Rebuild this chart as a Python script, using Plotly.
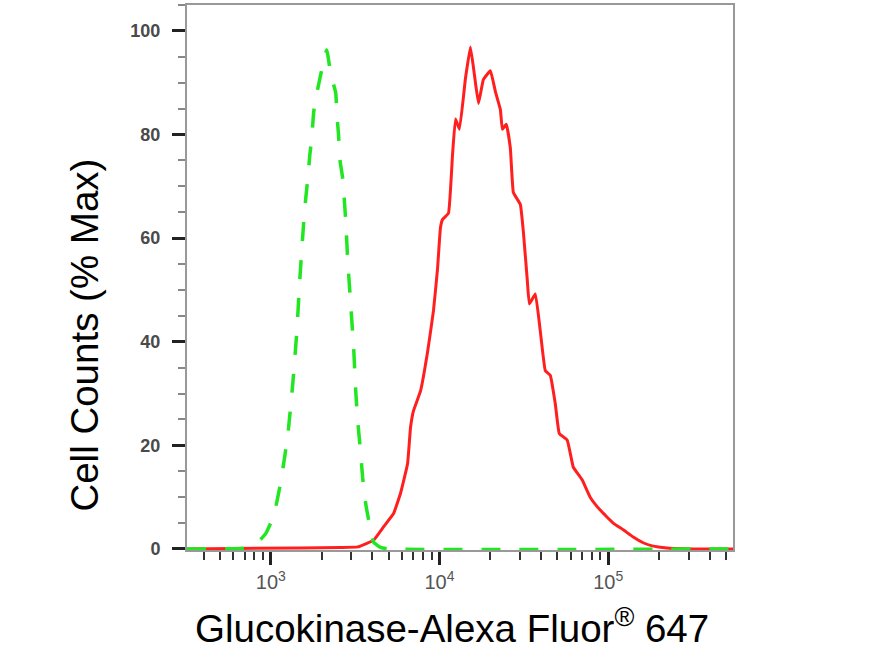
import plotly.graph_objects as go

# intensidad (Alexa Fluor 647) y % del maximo
red_x = [318, 1500, 2594, 3270, 4066, 4665, 5350, 5880, 6470, 6735, 7015, 7720,
         8495, 9210, 9730, 10130, 10420, 11300, 11940, 12440, 13130, 14250, 15250,
         16110, 17020, 18200, 20030, 21440, 22960, 23590, 24900, 26310, 27410,
         30150, 31400, 33180, 34100, 37000, 39600, 42400, 45400, 48600, 51300,
         57200, 62100, 70200, 78200, 89700, 107100, 122800, 140700, 161200,
         182100, 223300, 350000, 549500]
red_y = [0, 0.2, 0.3, 0.4, 1.7, 4.3, 6.9, 10.8, 16.5, 23.5, 26.7, 30.5,
         38, 46, 54, 62, 63.6, 64.8, 76, 83, 81, 90.8, 96.9,
         91.5, 86, 90.6, 92.3, 88.3, 84.8, 81, 82, 77.3, 68.8,
         66.5, 61.3, 51.7, 47.3, 49.2, 42, 34.4, 33.5, 28, 22.3,
         21, 15.8, 13.3, 10, 7.5, 5, 3.7, 2.3, 1.2,
         0.6, 0.2, 0, 0]

green_x = [318, 711, 849, 934, 1042, 1146, 1261, 1350, 1426, 1485, 1568, 1611,
           1656, 1702, 1750, 1796, 1872, 2005, 2145, 2265, 2426, 2460, 2520,
           2560, 2668, 2780, 2858, 2974, 3098, 3185, 3273, 3410, 3502, 3650,
           3802, 4066, 4475, 4990, 549500]
green_y = [0, 0.2, 1.5, 3, 6.5, 13, 22, 32, 42, 52, 63.3, 67.7,
           71.5, 76, 79.6, 84.4, 87.9, 92.5, 96.3, 91.7, 88, 84, 80,
           75.4, 71.5, 63.3, 55.6, 47.3, 38.8, 30.6, 24.8, 18.5, 13.8, 8.8,
           5.6, 1.3, 0.3, 0, 0]

x_ticks = [1e3, 1e4, 1e5]
x_labels = ["10<sup>3</sup>", "10<sup>4</sup>", "10<sup>5</sup>"]
x_minor = [m * 10 ** e for e in range(2, 6) for m in range(2, 10)]

fuente = "Liberation Sans, Arial, sans-serif"

fig = go.Figure([
    go.Scatter(x=red_x, y=red_y, mode="lines", name="Glucokinase",
               line=dict(color="#ff1f1f", width=3, shape="spline", smoothing=0.3)),
    go.Scatter(x=green_x, y=green_y, mode="lines", name="Isotype",
               line=dict(color="#22e622", width=3.5, dash="19px,19px",
                         shape="spline", smoothing=0.4)),
])

fig.update_layout(
    width=876, height=660,
    margin=dict(l=187, r=143, t=3, b=110),
    plot_bgcolor="white", paper_bgcolor="white",
    showlegend=False,
    font=dict(family=fuente),
)

fig.update_xaxes(
    type="log", range=[2.503, 5.74],
    showgrid=False, zeroline=False,
    showline=True, linecolor="#999", linewidth=2, mirror=True,
    tickmode="array", tickvals=x_ticks, ticktext=x_labels,
    ticks="outside", ticklen=13, tickwidth=3, tickcolor="#222",
    tickfont=dict(size=20, color="#555"),
    minor=dict(tickmode="array", tickvals=x_minor, ticks="outside",
               ticklen=8, tickwidth=1.5, tickcolor="#333", showgrid=False),
)

fig.update_yaxes(
    range=[-0.2, 105],
    showgrid=False, zeroline=False,
    showline=True, linecolor="#999", linewidth=2, mirror=True,
    tickmode="linear", tick0=0, dtick=20,
    ticks="outside", ticklen=13, tickwidth=3, tickcolor="#222",
    ticklabelstandoff=8,
    tickfont=dict(size=18, color="#4a4a4a", weight="bold"),
    minor=dict(dtick=5, ticks="outside", ticklen=7, tickwidth=1.5,
               tickcolor="#888", showgrid=False),
)

# titulos de ejes como anotaciones para ubicarlos como en la figura
fig.add_annotation(text="Cell Counts (% Max)", xref="paper", yref="paper",
                   x=-0.187, y=0.395, textangle=-90, showarrow=False,
                   xanchor="center", yanchor="middle",
                   font=dict(size=38.5, color="black"))
fig.add_annotation(text="Glucokinase-Alexa Fluor<sup>®</sup> 647",
                   xref="paper", yref="paper", x=0.486, y=-0.14,
                   showarrow=False, xanchor="center", yanchor="middle",
                   font=dict(size=38.5, color="black"))

# sin margen del body para que el grafico quede en (0,0)
fig.write_html("out.html", config={"displayModeBar": False},
               post_script="document.body.style.margin='0';")
